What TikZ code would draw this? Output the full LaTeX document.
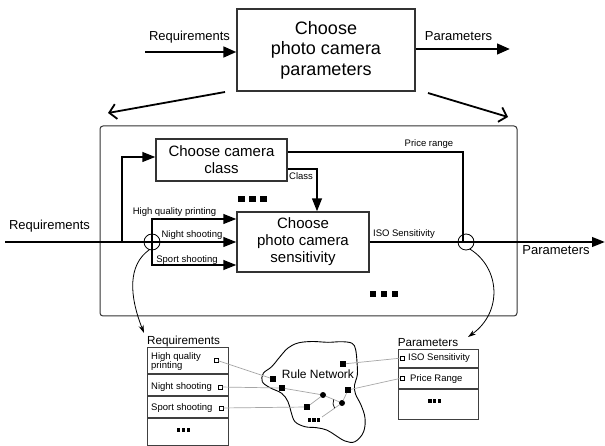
\documentclass[tikz,border=0pt]{standalone}
\usepackage{fontspec}
\setmainfont{Liberation Sans}
\usetikzlibrary{arrows.meta}
\newcommand\myfs[2]{\fontsize{#1}{#2}\selectfont}
\newcommand\sqdots[4]{\foreach \k in {-1,0,1}{\fill (#1+\k*#4-#3/2,#2-#3/2) rectangle ++(#3,#3);}}
\begin{document}
\begin{tikzpicture}[x=1pt,y=-1pt]
\tikzset{
 procbox/.style={draw=black!80, line width=1.1pt, align=center, inner sep=0pt},
 bigarrow/.style={line width=2.7pt, -{Triangle[length=13pt,width=10.5pt]}},
 flowarrow/.style={line width=2.4pt, -{Triangle[length=13pt,width=9.5pt]}},
 flowline/.style={line width=2.4pt},
 barbarrow/.style={line width=1.8pt, -{Straight Barb[length=7pt,width=15pt]}},
 linkarrow/.style={line width=0.8pt, -{Stealth[length=8pt,width=5pt]}},
 lbl/.style={font=\myfs{13}{15}, inner sep=0pt, anchor=base},
 small/.style={font=\myfs{9.5}{10.5}, inner sep=0pt, anchor=base},
 cell/.style={draw=black!75, line width=1pt, anchor=north west, inner sep=0pt},
 port/.style={draw, line width=0.7pt, fill=white, minimum size=4pt, inner sep=0pt},
 rsq/.style={fill, minimum size=5.5pt, inner sep=0pt},
 rdot/.style={fill, circle, minimum size=6pt, inner sep=0pt},
 netline/.style={draw=black!35, line width=0.7pt},
 joint/.style={draw, circle, minimum size=16pt, inner sep=0pt, line width=0.8pt},
}
\fill[white] (0,0) rectangle (605,446);
\useasboundingbox (0,0) rectangle (605,446);

% ---------- top level ----------
\node[procbox, minimum width=178pt, minimum height=82pt, font=\myfs{18}{20.5}] (top) at (326,50) {Choose\\photo camera\\parameters};
\coordinate (treq) at (145,52);
\draw[bigarrow] (treq) -- (treq -| top.west);
\node[lbl] (treqlbl) at (189.5,41) {Requirements};
\coordinate (tpar) at (510,49);
\draw[bigarrow] (top.east |- tpar) -- (tpar);
\node[lbl] (tparlbl) at (458.5,41) {Parameters};
\coordinate (dl0) at (225,92); \coordinate (dl1) at (108,113);
\draw[barbarrow] (dl0) -- (dl1);
\coordinate (dr0) at (428,93); \coordinate (dr1) at (508,117);
\draw[barbarrow] (dr0) -- (dr1);

% ---------- decomposition frame ----------
\node[draw=black!80, line width=1pt, rounded corners=3pt, minimum width=417pt, minimum height=190pt, inner sep=0pt] (frame) at (308.5,221) {};
\node[procbox, minimum width=131pt, minimum height=42pt, font=\myfs{15}{17}] (class) at (221.5,160) {Choose camera\\class};
\node[procbox, minimum width=132pt, minimum height=60pt, font=\myfs{15}{17}] (sens) at (303,242) {Choose\\photo camera\\sensitivity};

\coordinate (min) at (5,242);
\draw[flowarrow] (min) -- (sens.west);
\node[lbl] (mreq) at (49.5,230) {Requirements};
\coordinate (bj) at (122,242); \coordinate (bc) at (122,157);
\draw[flowarrow] (bj) -- (bc) -- (bc -| class.west);
\coordinate (bm) at (152,242); \coordinate (b1) at (152,219); \coordinate (b3) at (152,265);
\draw[flowarrow] (bm) -- (b1) -- (b1 -| sens.west);
\draw[flowarrow] (bm) -- (b3) -- (b3 -| sens.west);
\node[small] (lhq) at (174.5,215) {High quality printing};
\node[small] (lns) at (192,238) {Night shooting};
\node[small] (lss) at (187,262.5) {Sport shooting};
\node[joint] (cl) at (152,242) {};

\coordinate (cc) at (317,169);
\draw[flowarrow] (class.east |- cc) -- (cc) -- (cc |- sens.north);
\node[small, anchor=base west] (classlbl) at (289,180) {Class};
\coordinate (pr) at (463,152);
\draw[flowline] (class.east |- pr) -- (pr) -- (pr |- sens.east);
\node[small] (prlbl) at (429,146.7) {Price range};

\coordinate (mout) at (605,242);
\draw[flowarrow] (sens.east) -- (mout);
\node[small] (isolbl) at (404,237) {ISO Sensitivity};
\node[lbl] (mpar) at (556,255) {Parameters};
\node[joint] (cr) at (466,242) {};

\sqdots{252.5}{199}{6.5}{11}
\sqdots{384}{294}{6.5}{11}

% ---------- links to rule network ----------
\coordinate (lreq) at (144,333);
\draw[linkarrow] (cl.250) .. controls (128,265) and (129,295) .. (lreq);
\coordinate (lpar) at (468,337);
\draw[linkarrow] (cr.300) .. controls (500,268) and (503,312) .. (lpar);

% ---------- requirements table ----------
\node[lbl, font=\myfs{11.7}{13}] (reqt) at (183.5,344) {Requirements};
\node[cell, minimum width=81pt, minimum height=26pt] (r1) at (147,347) {};
\node[cell, minimum width=81pt, minimum height=21pt] (r2) at (r1.south west) {};
\node[cell, minimum width=81pt, minimum height=21pt] (r3) at (r2.south west) {};
\node[cell, minimum width=81pt, minimum height=27pt] (r4) at (r3.south west) {};
\node[small, anchor=base west] (t1a) at (151,359) {High quality};
\node[small, anchor=base west] (t1b) at (151,368.5) {printing};
\node[small, anchor=base west] (t2) at (151,389) {Night shooting};
\node[small, anchor=base west] (t3) at (151,410) {Sport shooting};
\sqdots{183.5}{430}{3.2}{4.8}
\node[port] (p1) at (216,360) {};
\node[port] (p2) at (220,387) {};
\node[port] (p3) at (221,408) {};

% ---------- parameters table ----------
\node[lbl, font=\myfs{11.7}{13}] (part) at (428,346) {Parameters};
\node[cell, minimum width=80pt, minimum height=18pt] (s1) at (398,349) {};
\node[cell, minimum width=80pt, minimum height=20pt] (s2) at (s1.south west) {};
\node[cell, minimum width=80pt, minimum height=30pt] (s3) at (s2.south west) {};
\node[small, anchor=base west] (u1) at (408,360.5) {ISO Sensitivity};
\node[small, anchor=base west] (u2) at (410,381.5) {Price Range};
\sqdots{434.7}{401}{3.2}{4.8}
\node[port] (q1) at (402,358) {};
\node[port] (q2) at (402,378) {};

% ---------- rule network ----------
\draw[line width=0.9pt] plot[smooth cycle, tension=0.6] coordinates {
 (288,348) (298,343) (312,341.5) (328,342.3) (342,341.7) (352,343.3) (355.5,349)
 (357,362) (357.3,375) (354.5,385) (355.5,394) (361,405) (365,418) (363.5,432)
 (355,441.7) (345,441) (335,435) (326.7,430) (316.7,427.7) (305,426.7) (295,421.7)
 (291,411.7) (288,401.7) (281.7,393.3) (270,387.7) (262.3,381.7) (263.3,373.3)
 (271.7,366.7) (280,356.7)};
\node[lbl, font=\myfs{12}{14}] (rn) at (318,378) {Rule Network};
\node[rsq] (na) at (343,364) {};
\node[rsq] (nb) at (273,379) {};
\node[rsq] (nc) at (282,388) {};
\node[rdot] (nd) at (323,395) {};
\node[rsq] (ne) at (307,407) {};
\node[rdot] (nf) at (342,403) {};
\node[rsq] (ng) at (348,390) {};
\coordinate (nz) at (322,417);
\sqdots{314}{420}{3.2}{4.8}
\draw[netline] (p1) -- (nb);
\draw[netline] (p2) -- (nc);
\draw[netline] (nc) -- (nd);
\draw[netline] (p3) -- (ne);
\draw[netline] (ne) -- (nd);
\draw[netline] (nd) -- (nf);
\draw[netline] (nf) -- (ng);
\draw[netline] (nf) -- (nz);
\draw[netline] (na) -- (q1);
\draw[netline] (ng) -- (q2);
\draw[line width=0.7pt] (nf.center) ++(145:9) arc[start angle=145, end angle=203, radius=9];
\end{tikzpicture}
\end{document}
